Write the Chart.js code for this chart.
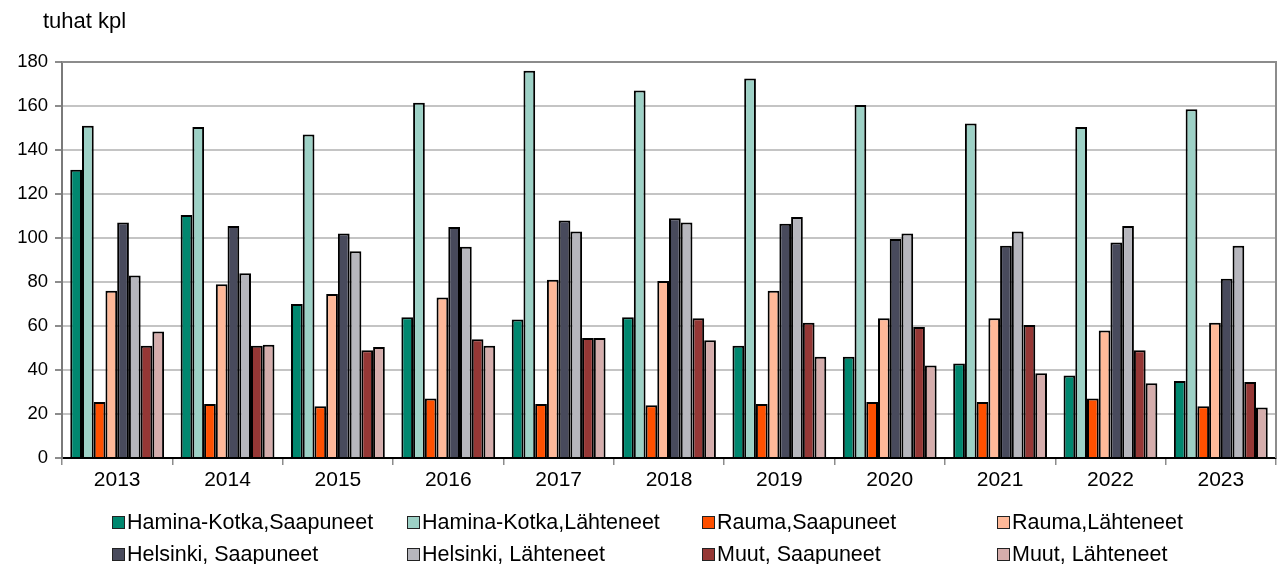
<!DOCTYPE html>
<html lang="fi">
<head>
<meta charset="utf-8">
<title>Kontit satamittain</title>
<script src="https://cdn.jsdelivr.net/npm/chart.js@4.4.1/dist/chart.umd.min.js"></script>
<style>
  body { margin: 0; background: #fff; font-family: "Liberation Sans", Arial, sans-serif; }
  #wrap { position: relative; width: 1283px; height: 564px; }
  #wrap canvas { position: absolute; left: 0; top: 0; }
  #unit { position: absolute; left: 43px; top: 8px; font-size: 22px; color: #000; }
  #legend { position: absolute; left: 112px; top: 506px; display: grid; grid-template-columns: repeat(4, 295px); }
  #legend .item { display: flex; align-items: center; height: 32px; font-size: 21.5px; color: #000; white-space: nowrap; }
  #legend .box { width: 11px; height: 11px; border: 1.5px solid #222; margin-right: 2px; }
</style>
</head>
<body>
<div id="wrap">
  <canvas id="chart" width="1283" height="564"></canvas>
  <div id="unit">tuhat kpl</div>
  <div id="legend"></div>
</div>
<script>
const years = ['2013', '2014', '2015', '2016', '2017', '2018', '2019', '2020', '2021', '2022', '2023'];
const yTicks = [0, 20, 40, 60, 80, 100, 120, 140, 160, 180];

// tuhat kpl
const haminaKotkaIn  = [131, 110.5, 70, 64, 63, 64, 51, 46, 43, 37.5, 35];
const haminaKotkaOut = [151, 150.5, 147, 161.5, 176, 167, 172.5, 160.5, 152, 150.5, 158.5];
const raumaIn        = [25.5, 24.5, 23.5, 27, 24.5, 24, 24.5, 25.5, 25.5, 27, 23.5];
const raumaOut       = [76, 79, 74.5, 73, 81, 80.5, 76, 63.5, 63.5, 58, 61.5];
const helsinkiIn     = [107, 105.5, 102, 105, 108, 109, 106.5, 99.5, 96.5, 98, 81.5];
const helsinkiOut    = [83, 84, 94, 96, 103, 107, 109.5, 102, 103, 105.5, 96.5];
const muutIn         = [51, 51, 49, 54, 54.5, 63.5, 61.5, 59.5, 60.5, 49, 34.5];
const muutOut        = [57.5, 51.5, 50.5, 51, 54.5, 53.5, 46, 42, 38.5, 34, 23];

const series = [
    { label: 'Hamina-Kotka,Saapuneet', data: haminaKotkaIn, color: '#00876f' },
    { label: 'Hamina-Kotka,Lähteneet', data: haminaKotkaOut, color: '#9dd1c6' },
    { label: 'Rauma,Saapuneet', data: raumaIn, color: '#ff5000' },
    { label: 'Rauma,Lähteneet', data: raumaOut, color: '#ffb999' },
    { label: 'Helsinki, Saapuneet', data: helsinkiIn, color: '#484a5c' },
    { label: 'Helsinki, Lähteneet', data: helsinkiOut, color: '#b6b6bd' },
    { label: 'Muut, Saapuneet', data: muutIn, color: '#953735' },
    { label: 'Muut, Lähteneet', data: muutOut, color: '#d5adac' }
];

// top and right frame of the plot area
const frame = {
    id: 'frame',
    beforeDatasetsDraw(chart) {
        const { ctx, chartArea: a } = chart;
        ctx.save();
        ctx.strokeStyle = '#8c8c8c';
        ctx.lineWidth = 2;
        ctx.beginPath();
        ctx.moveTo(a.left, a.top);
        ctx.lineTo(a.right, a.top);
        ctx.lineTo(a.right, a.bottom);
        ctx.stroke();
        ctx.restore();
    }
};

Chart.defaults.font.family = '"Liberation Sans", Arial, sans-serif';
Chart.defaults.color = '#000';

new Chart(document.getElementById('chart'), {
    type: 'bar',
    data: {
        labels: years,
        datasets: series.map(s => ({
            label: s.label,
            data: s.data,
            backgroundColor: s.color,
            borderColor: '#000',
            borderWidth: 2,
            categoryPercentage: 0.85,
            barPercentage: 1.0
        }))
    },
    options: {
        responsive: false,
        animation: false,
        layout: { padding: { left: 0, right: 7, top: 62, bottom: 66 } },
        plugins: {
            legend: { display: false },
            tooltip: { enabled: false }
        },
        scales: {
            x: {
                afterFit(scale) { scale.height = 40; },
                grid: { drawOnChartArea: false, drawTicks: true, tickLength: 7, color: '#8c8c8c', lineWidth: 1.5 },
                border: { color: '#000', width: 2 },
                ticks: { font: { size: 21 }, padding: 3 }
            },
            y: {
                min: 0,
                max: 180,
                afterFit(scale) { scale.width = 62; },
                afterBuildTicks(scale) { scale.ticks = yTicks.map(v => ({ value: v })); },
                grid: { color: '#c4c4c4', lineWidth: 2, tickLength: 7, tickColor: '#8c8c8c' },
                border: { color: '#7a7a7a', width: 2 },
                ticks: { font: { size: 18.5 }, padding: 7 }
            }
        }
    },
    plugins: [frame]
});

const legend = document.getElementById('legend');
series.forEach(s => {
    const item = document.createElement('div');
    item.className = 'item';
    const box = document.createElement('span');
    box.className = 'box';
    box.style.background = s.color;
    item.appendChild(box);
    item.appendChild(document.createTextNode(s.label));
    legend.appendChild(item);
});
</script>
</body>
</html>
